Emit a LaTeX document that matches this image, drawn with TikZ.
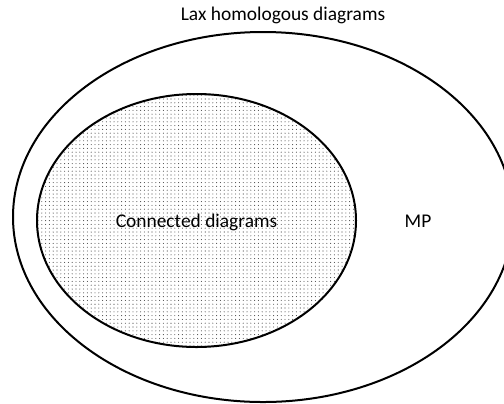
\documentclass[tikz,border=0pt]{standalone}
\usepackage{fontspec}
\setmainfont{Carlito}
\usetikzlibrary{patterns.meta}
\begin{document}
\begin{tikzpicture}[x=1bp,y=-1bp,
  setline/.style={line width=2bp},
  lbl/.style={font=\fontsize{19.5}{23}\selectfont, inner sep=0pt}]
\useasboundingbox (0,0) rectangle (504,403);
\clip (0,0) rectangle (504,403);
\draw[setline] (263,217) ellipse [x radius=250, y radius=185];
\fill[pattern={Dots[distance=3.8bp, radius=0.55bp]}, pattern color=black!70] (196.5,220.5) ellipse [x radius=159.5, y radius=126.5];
\draw[setline] (196.5,220.5) ellipse [x radius=159.5, y radius=126.5];
\node[lbl] (lax) at (283,15) {Lax homologous diagrams};
\node[lbl] (conn) at (196.5,222) {Connected diagrams};
\node[lbl] (mp) at (418,221) {MP};
\end{tikzpicture}
\end{document}
